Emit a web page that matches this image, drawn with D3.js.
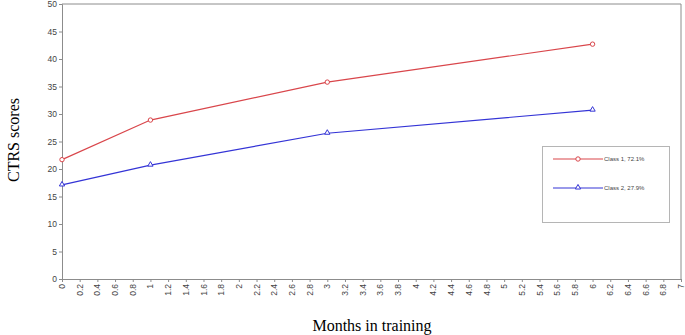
<!DOCTYPE html>
<html><head><meta charset="utf-8">
<script src="https://cdnjs.cloudflare.com/ajax/libs/d3/7.8.5/d3.min.js"></script>
<style>body{margin:0;background:#fff}svg{display:block}</style>
</head><body>
<script>
const months = [0, 1, 3, 6];
const class1 = [21.7, 28.9, 35.8, 42.7];
const class2 = [17.1, 20.7, 26.5, 30.7];
const seriesNames = ["Class 1, 72.1%", "Class 2, 27.9%"];
const xTicks = d3.range(0, 7.001, 0.2).map(v => +v.toFixed(1));
const yTicks = d3.range(0, 51, 5);

const W = 685, H = 335;
const svg = d3.select("body").append("svg").attr("width", W).attr("height", H);
const x = d3.scaleLinear().domain([0, 7]).range([62, 681]);
const y = d3.scaleLinear().domain([0, 50]).range([279, 4]);
const axisColor = "#8c8c8c";

// frame top/right
svg.append("line").attr("x1", x(0)).attr("x2", x(7)).attr("y1", y(50)).attr("y2", y(50)).attr("stroke", axisColor);
svg.append("line").attr("x1", x(7)).attr("x2", x(7)).attr("y1", y(50)).attr("y2", y(0)).attr("stroke", axisColor);

const yAxis = svg.append("g").attr("transform", `translate(${x(0)},0)`)
  .call(d3.axisLeft(y).tickValues(yTicks).tickSize(3).tickPadding(2));
const xAxis = svg.append("g").attr("transform", `translate(0,${y(0)})`)
  .call(d3.axisBottom(x).tickValues(xTicks).tickSize(3).tickFormat(d => d3.format("~g")(d)));
[yAxis, xAxis].forEach(g => {
  g.select(".domain").attr("stroke", axisColor);
  g.selectAll(".tick line").attr("stroke", axisColor);
  g.selectAll("text").attr("fill", "#444").style("font-family", "Arial, 'Liberation Sans', sans-serif").style("font-size", "8.5px");
});
xAxis.selectAll("text").attr("transform", "rotate(-90)").attr("text-anchor", "end")
  .attr("x", -5).attr("y", 0).attr("dy", "0.3em");

const line = d3.line().x((d, i) => x(months[i])).y(d => y(d));
const series = [
  {vals: class1, color: "#d9464b", marker: "circle"},
  {vals: class2, color: "#3434d6", marker: "triangle"}
];
function marker(g, type, cx, cy, color) {
  if (type === "circle") {
    g.append("circle").attr("cx", cx).attr("cy", cy).attr("r", 2.2).attr("fill", "#fff").attr("stroke", color).attr("stroke-width", 1);
  } else {
    g.append("path").attr("d", d3.symbol(d3.symbolTriangle, 12)()).attr("transform", `translate(${cx},${cy - 0.5})`)
      .attr("fill", "#fff").attr("stroke", color).attr("stroke-width", 1);
  }
}
series.forEach(s => {
  svg.append("path").datum(s.vals).attr("d", line).attr("fill", "none").attr("stroke", s.color).attr("stroke-width", 1.2);
  const g = svg.append("g");
  s.vals.forEach((v, i) => marker(g, s.marker, x(months[i]), y(v), s.color));
});

// legend
const lg = svg.append("g");
lg.append("rect").attr("x", 542.5).attr("y", 146.5).attr("width", 127).attr("height", 76)
  .attr("fill", "#fff").attr("stroke", "#b5b5b5");
series.forEach((s, i) => {
  const ly = 159 + i * 29;
  lg.append("line").attr("x1", 553).attr("x2", 603).attr("y1", ly).attr("y2", ly).attr("stroke", s.color).attr("stroke-width", 1.2);
  marker(lg, s.marker, 578, ly, s.color);
  lg.append("text").attr("x", 604).attr("y", ly).attr("dy", "0.33em").text(seriesNames[i])
    .style("font-family", "Arial, 'Liberation Sans', sans-serif").style("font-size", "6px").attr("fill", "#444");
});

svg.append("text").attr("transform", "translate(19,140) rotate(-90)").attr("text-anchor", "middle")
  .style("font-family", "'Liberation Serif', 'Times New Roman', serif").style("font-size", "16px").text("CTRS scores");
svg.append("text").attr("x", 372).attr("y", 331).attr("text-anchor", "middle")
  .style("font-family", "'Liberation Serif', 'Times New Roman', serif").style("font-size", "16px").text("Months in training");
</script>
</body></html>
